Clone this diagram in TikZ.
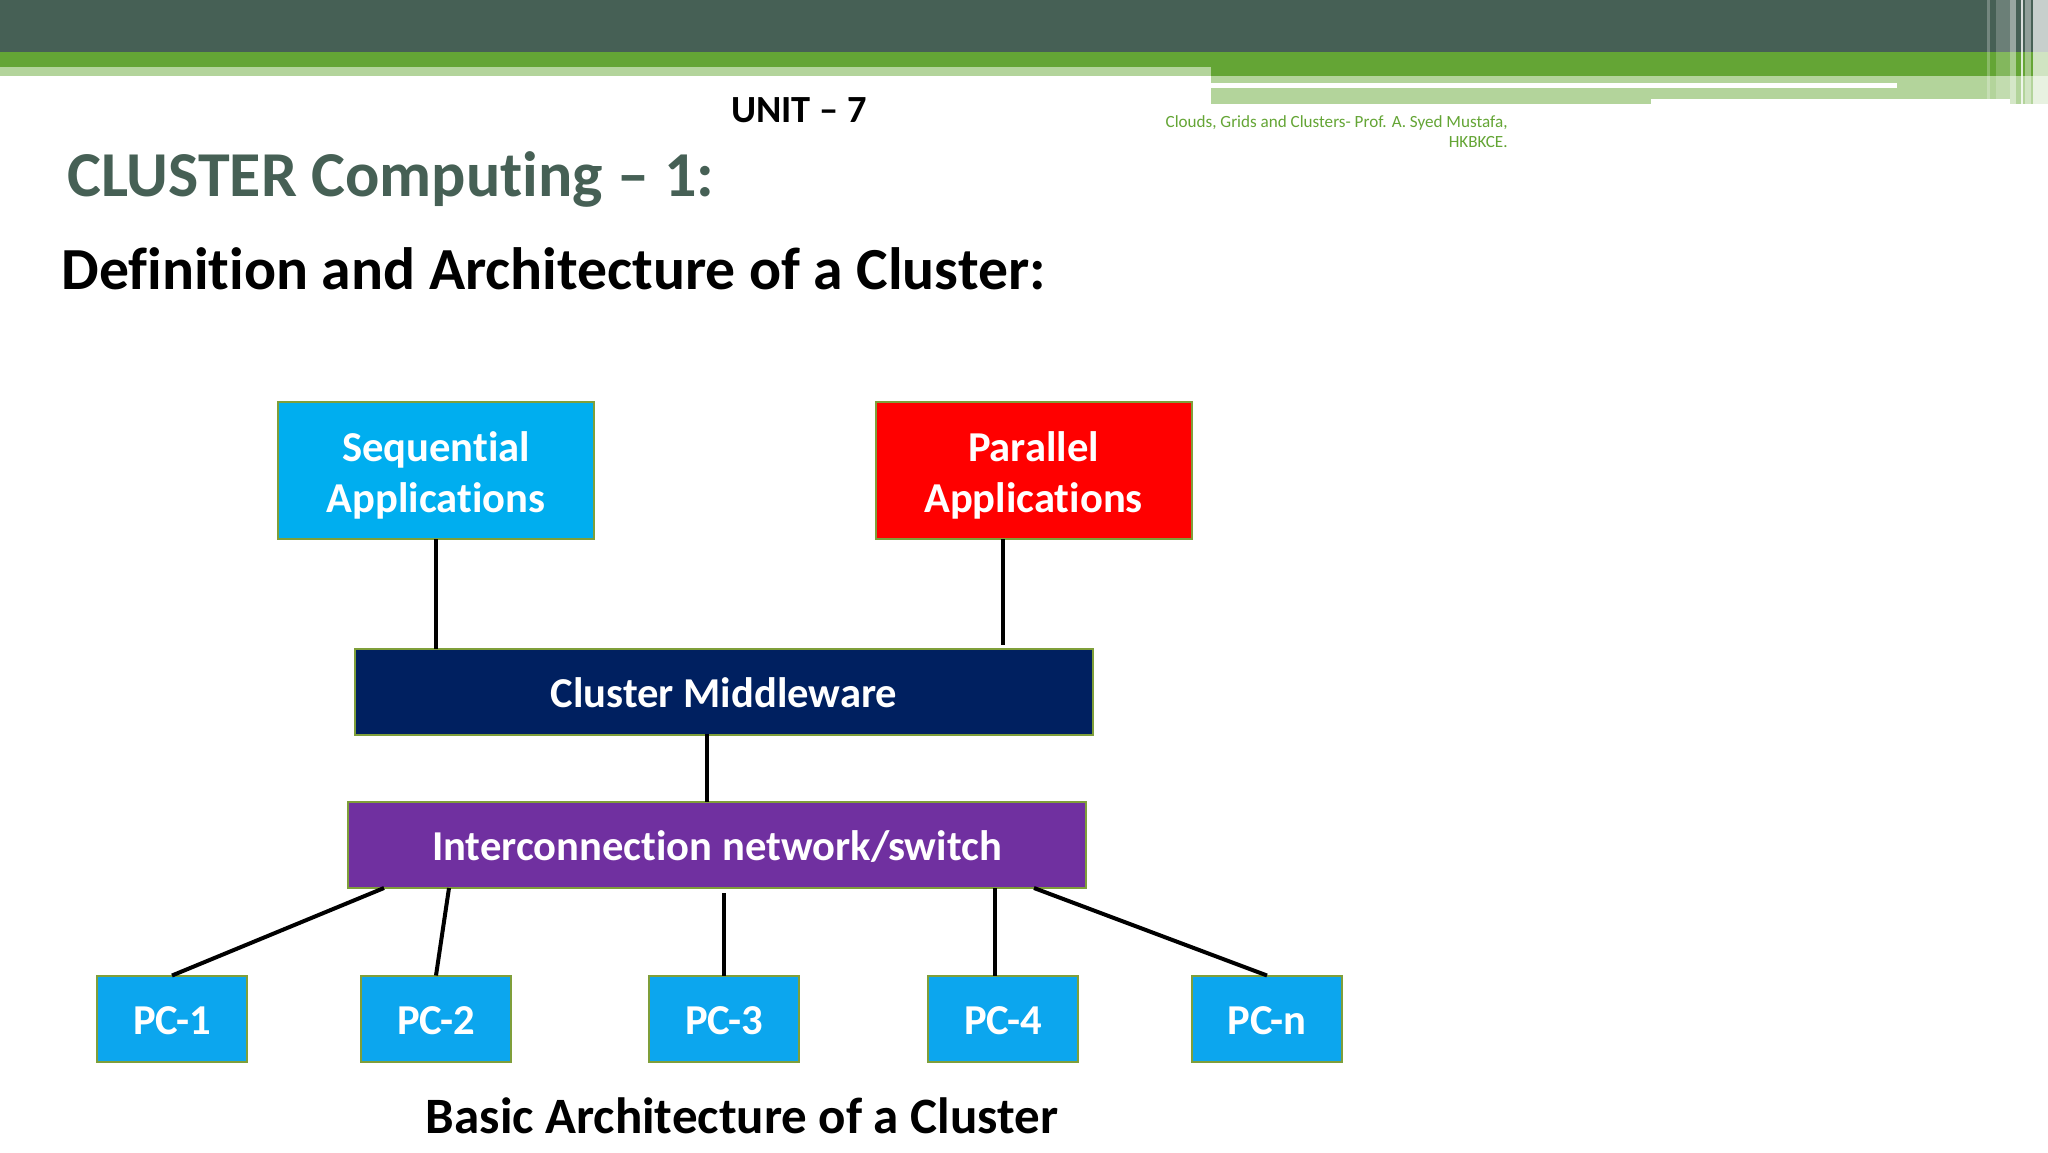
\documentclass[tikz,border=0pt]{standalone}
\usepackage{fontspec}
\setmainfont[RawFeature=-liga;-clig]{Carlito}
\definecolor{banddark}{HTML}{466055}
\definecolor{bandgreen}{HTML}{64A535}
\definecolor{bandlight}{HTML}{B3D49B}
\definecolor{boxedge}{HTML}{7F9F3A}
\definecolor{seqblue}{HTML}{00AEEF}
\definecolor{pcblue}{HTML}{0CA6EE}
\definecolor{midblue}{HTML}{002060}
\definecolor{netpurple}{HTML}{7030A0}
\newcommand{\applift}{\rule{0pt}{20pt}}
\tikzset{
  box/.style={draw=boxedge,line width=1pt,inner sep=0pt,outer sep=0pt,text=white,align=center,
    font=\fontsize{21.3}{25.5}\selectfont\bfseries},
  appbox/.style={box,minimum width=158pt,minimum height=68.5pt},
  barbox/.style={box,minimum width=369pt,minimum height=43pt,text height=15.5pt,text depth=0pt},
  pcbox/.style={box,fill=pcblue,minimum width=75pt,minimum height=43pt,text height=15.5pt,text depth=0pt},
  wire/.style={line width=2pt,black},
  head/.style={inner sep=0pt,font=\bfseries},
  stripe/.style={fill=white,opacity=#1},
}
\begin{document}
\begin{tikzpicture}[x=0.5pt,y=-0.5pt]
\useasboundingbox (0,0) rectangle (2048,1152);
\fill[white] (0,0) rectangle (2048,1152);

% top band
\fill[banddark] (0,0) rectangle (2048,52);
\fill[bandgreen] (0,52) rectangle (2048,76);
\fill[bandlight] (0,67) rectangle (1211,76);
\fill[bandlight] (1211,76) rectangle (2048,104);
% right stripes
\fill[stripe=.25] (1987,0) rectangle (1990,104);
\fill[stripe=.2] (1996,0) rectangle (2010,104);
\fill[stripe=.45] (2010,0) rectangle (2016,104);
\fill[stripe=.8] (2021,0) rectangle (2023,104);
\fill[stripe=.4] (2025,0) rectangle (2031,104);
\fill[stripe=.7] (2033,0) rectangle (2048,104);
\fill[white] (1211,83) rectangle (1897,88);
\fill[white] (1651,99) rectangle (2010,104);

% texts
\node[head,font=\fontsize{19.2}{24}\selectfont\bfseries] (unit) at (799,110) {UNIT – 7};
\node[head,text=banddark,anchor=west,font=\fontsize{32}{36}\selectfont\bfseries] (title) at (67,179) {CLUSTER Computing – 1:};
\node[head,anchor=west,font=\fontsize{29.85}{32}\selectfont\bfseries] (sub) at (61,269) {Definition and Architecture of a Cluster:};
\node[inner sep=0pt,text=bandgreen,align=right,anchor=east,font=\fontsize{8.55}{10}\selectfont] (foot) at (1508,132) {Clouds, Grids and Clusters- Prof. A. Syed Mustafa,\\HKBKCE.};
\node[head,font=\fontsize{25.5}{28}\selectfont\bfseries] (cap) at (742,1116) {Basic Architecture of a Cluster};

% boxes
\node[appbox,fill=seqblue] (seq) at (436,470.5) {\applift Sequential\\Applications};
\node[appbox,fill=red] (par) at (1033.5,470.5) {\applift Parallel\\Applications};
\node[barbox,fill=midblue] (mid) at (724,691.5) {Cluster Middleware};
\node[barbox,fill=netpurple] (net) at (717,845) {Interconnection network/switch};
\node[pcbox] (pc1) at (172,1018.5) {PC-1};
\node[pcbox] (pc2) at (436,1018.5) {PC-2};
\node[pcbox] (pc3) at (724,1018.5) {PC-3};
\node[pcbox] (pc4) at (1003,1018.5) {PC-4};
\node[pcbox] (pcn) at (1267,1018.5) {PC-n};

% connector ends that are off the anchors
\coordinate (parout) at (1003,539);
\coordinate (midin) at (1003,645);
\coordinate (midout) at (707,734);
\coordinate (net1) at (384,888);
\coordinate (net2) at (449,888);
\coordinate (net3) at (724,893);
\coordinate (net4) at (995,888);
\coordinate (netn) at (1034,888);

% connectors
\draw[wire] (seq.south) -- (mid.north -| seq.south);
\draw[wire] (parout) -- (midin);
\draw[wire] (midout) -- (net.north -| midout);
\draw[wire] (net1) -- (pc1.north);
\draw[wire] (net2) -- (pc2.north);
\draw[wire] (net3) -- (pc3.north);
\draw[wire] (net4) -- (pc4.north -| net4);
\draw[wire] (netn) -- (pcn.north);
\end{tikzpicture}
\end{document}
